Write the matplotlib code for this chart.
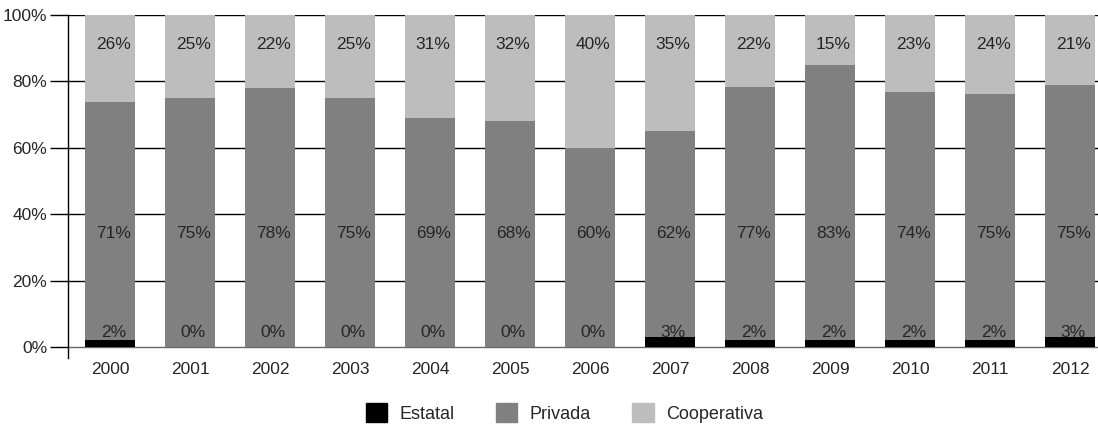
import matplotlib
matplotlib.use("Agg")
import matplotlib.pyplot as plt
from matplotlib.patches import Patch

plt.rcParams['font.family'] = ['Liberation Sans', 'DejaVu Sans']

years = ['2000', '2001', '2002', '2003', '2004', '2005', '2006',
         '2007', '2008', '2009', '2010', '2011', '2012']
estatal = [2, 0, 0, 0, 0, 0, 0, 3, 2, 2, 2, 2, 3]
privada = [71, 75, 78, 75, 69, 68, 60, 62, 77, 83, 74, 75, 75]
cooperativa = [26, 25, 22, 25, 31, 32, 40, 35, 22, 15, 23, 24, 21]

series = [('Estatal', estatal, '#000000'),
          ('Privada', privada, '#808080'),
          ('Cooperativa', cooperativa, '#bdbdbd')]
label_y = [4.3, 34.3, 91.2]

fig = plt.figure(figsize=(10.98, 4.25), dpi=100)
ax = fig.add_axes([68 / 1098, 1 - 358 / 425, (1110 - 68) / 1098, (358 - 15) / 425])

x = list(range(len(years)))
totals = [e + p + c for e, p, c in zip(estatal, privada, cooperativa)]
bottom = [0.0] * len(years)
for (name, vals, color), ly in zip(series, label_y):
    shares = [100.0 * v / t for v, t in zip(vals, totals)]
    ax.bar(x, shares, width=0.625, bottom=bottom, color=color, zorder=2, linewidth=0)
    bottom = [b + s for b, s in zip(bottom, shares)]
    for xi, v in zip(x, vals):
        ax.text(xi + 0.04, ly, f'{v}%', ha='center', va='center',
                fontsize=12.5, color='#262626', zorder=3)

ax.set_xlim(-0.525, 12.5)
ax.set_ylim(-3.3, 100)
ax.set_yticks([0, 20, 40, 60, 80, 100])
ax.set_yticklabels([f'{t}%' for t in [0, 20, 40, 60, 80, 100]])
for t in [20, 40, 60, 80, 100]:
    ax.axhline(t, color='#000000', linewidth=1, zorder=1)
ax.axhline(0, color='#666666', linewidth=1, zorder=1)

ax.set_xticks(x)
ax.set_xticklabels(years)
ax.tick_params(axis='y', length=13, width=1, color='#000000', labelsize=12.5,
               labelcolor='#262626', pad=2)
ax.tick_params(axis='x', length=0, labelsize=12.5, labelcolor='#262626', pad=3)
for side in ['top', 'right', 'bottom']:
    ax.spines[side].set_visible(False)
ax.spines['left'].set_color('#000000')
ax.spines['left'].set_linewidth(1)

handles = [Patch(facecolor=c, edgecolor=c, label=n) for n, _, c in series]
fig.legend(handles=handles, loc='center', bbox_to_anchor=(0.514, 0.028), ncol=3,
           frameon=False, fontsize=13, handlelength=1.2, handleheight=1.2,
           handletextpad=0.7, columnspacing=2.25, labelcolor='#262626')

fig.savefig('out.png', dpi=100)
